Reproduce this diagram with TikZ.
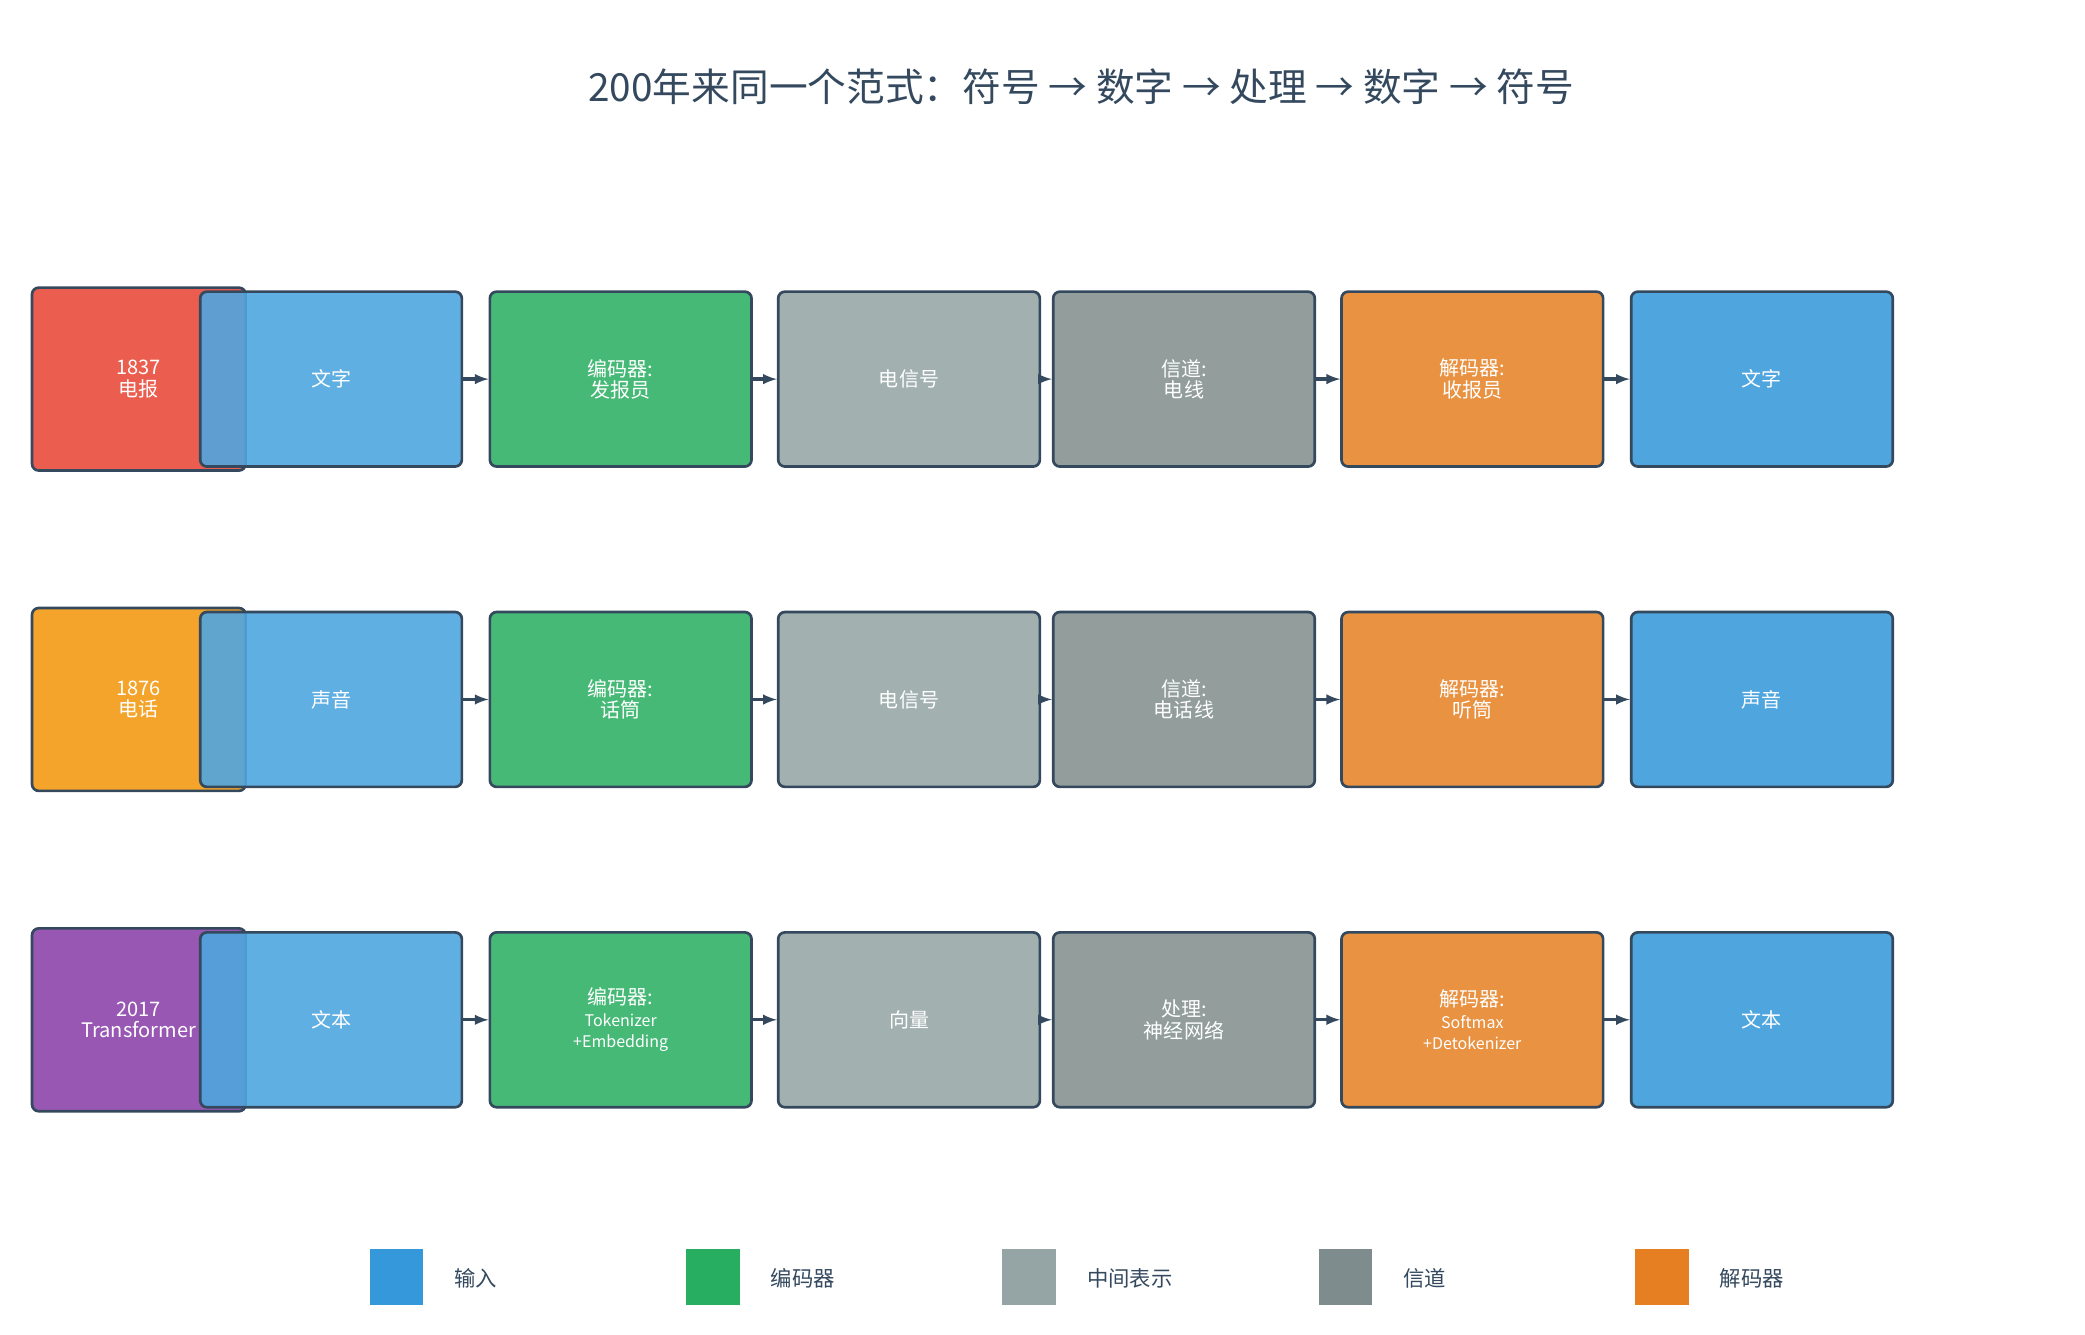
\documentclass[tikz,border=0pt]{standalone}
\usepackage{fontspec}
\setmainfont{Noto Sans CJK SC}
\begin{document}
\begin{tikzpicture}[x=1pt,y=-1pt,
 bd/.style={draw=bdc,line width=2pt,rounded corners=5pt,minimum width=196pt,minimum height=131pt,text=white,align=center,font=\fontsize{15}{16}\selectfont},
 yr/.style={draw=bdc,line width=2pt,rounded corners=5pt,minimum width=160pt,minimum height=137pt,text=white,align=center,font=\fontsize{15}{16}\selectfont},
 ar/.style={-latex,line width=2.5pt,draw=bdc},
 lg/.style={minimum width=40pt,minimum height=42pt,inner sep=0pt},
 lt/.style={anchor=west,font=\fontsize{16}{18}\selectfont,text=bdc}]
\definecolor{bdc}{HTML}{34495E}
\definecolor{cb}{HTML}{4FA6DF}\definecolor{cg}{HTML}{47B977}
\definecolor{cl}{HTML}{A3B0B0}\definecolor{cd}{HTML}{929D9C}
\definecolor{co}{HTML}{E89242}
\useasboundingbox (0,0) rectangle (1562,1000);
\node[font=\fontsize{29}{32}\selectfont,text=bdc] (title) at (810,65) {200年来同一个范式：符号 → 数字 → 处理 → 数字 → 符号};
\foreach \r/\y/\yc/\yt/\a/\b/\c/\d/\e/\f/\sz in {
 1/284/EB5E4F/{1837\\电报}/文字/{编码器:\\发报员}/电信号/{信道:\\电线}/{解码器:\\收报员}/文字/15,
 2/524/F4A42A/{1876\\电话}/声音/{编码器:\\话筒}/电信号/{信道:\\电话线}/{解码器:\\听筒}/声音/15,
 3/764/9857B3/{2017\\Transformer}/文本/{编码器:\\{\fontsize{12}{12}\selectfont Tokenizer}\\{\fontsize{12}{12}\selectfont +Embedding}}/向量/{处理:\\神经网络}/{解码器:\\{\fontsize{12}{12}\selectfont Softmax}\\{\fontsize{12}{12}\selectfont +Detokenizer}}/文本/15}{
 \definecolor{yc}{HTML}{\yc}
 \node[yr,fill=yc] (y\r) at (104,\y) {\yt};
 \node[bd,fill=cb,fill opacity=0.9,text opacity=1] (a\r) at (248,\y) {\a};
 \node[bd,fill=cg] (b\r) at (465,\y) {\b};
 \node[bd,fill=cl] (c\r) at (681,\y) {\c};
 \node[bd,fill=cd] (d\r) at (887,\y) {\d};
 \node[bd,fill=co] (e\r) at (1103,\y) {\e};
 \node[bd,fill=cb] (f\r) at (1320,\y) {\f};
 \draw[ar] (a\r) -- (b\r); \draw[ar] (b\r) -- (c\r); \draw[ar] (c\r) -- (d\r);
 \draw[ar] (d\r) -- (e\r); \draw[ar] (e\r) -- (f\r);
}
\definecolor{l1}{HTML}{3498DB}\definecolor{l2}{HTML}{27AE60}\definecolor{l3}{HTML}{95A5A6}\definecolor{l4}{HTML}{7F8C8D}\definecolor{l5}{HTML}{E67E22}
\foreach \i/\x/\t in {1/297/输入/输出,2/534/编码器,3/771/中间表示,4/1008/信道/处理,5/1245/解码器}{
 \node[lg,fill=l\i] (s\i) at (\x,957) {};
 \node[lt] (t\i) at (\x+40,958) {\t};
}
\end{tikzpicture}
\end{document}
